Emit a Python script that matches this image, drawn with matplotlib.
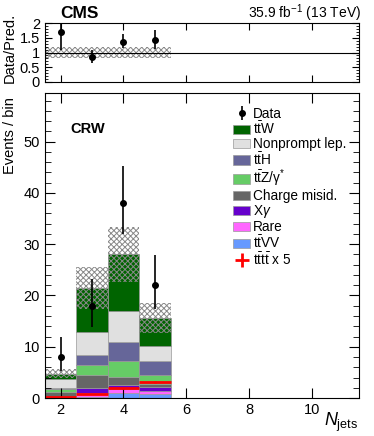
import numpy as np
import matplotlib
matplotlib.use("Agg")
import matplotlib.pyplot as plt
from matplotlib.ticker import MultipleLocator

plt.rcParams['font.family'] = ['Liberation Sans', 'DejaVu Sans']
plt.rcParams['mathtext.fontset'] = 'custom'
plt.rcParams['mathtext.rm'] = 'Liberation Sans'
plt.rcParams['mathtext.it'] = 'Liberation Sans:italic'
plt.rcParams['mathtext.bf'] = 'Liberation Sans:bold'
plt.rcParams['hatch.linewidth'] = 0.7

# bins (N_jets) and stacked backgrounds, bottom to top
njets = [2, 3, 4, 5]
ttvv = [0.05, 0.3, 0.9, 0.7]
rare = [0.1, 0.6, 0.8, 0.7]
xgamma = [0.1, 1.0, 0.8, 0.8]
chargemisid = [0.9, 2.5, 1.7, 0.6]
ttz = [0.6, 2.0, 3.1, 1.6]
tth = [0.3, 2.0, 3.7, 2.8]
nonprompt = [1.6, 4.4, 5.9, 2.9]
ttw = [1.1, 8.6, 11.1, 5.5]
tttt_x5 = [0.2, 0.8, 1.9, 3.1]
rel_unc = [0.19, 0.19, 0.19, 0.19]

data = [8, 18, 38, 22]
data_lo = [2.8, 4.2, 6.1, 4.7]
data_hi = [3.9, 5.3, 7.2, 5.8]

stack = [
    (ttvv, '#6699ff', r'$\mathrm{t\bar{t}VV}$'),
    (rare, '#ff66ff', 'Rare'),
    (xgamma, '#6600cc', r'X$\gamma$'),
    (chargemisid, '#666666', 'Charge misid.'),
    (ttz, '#66cc66', r'$\mathrm{t\bar{t}Z/\gamma^{*}}$'),
    (tth, '#666699', r'$\mathrm{t\bar{t}H}$'),
    (nonprompt, '#e0e0e0', 'Nonprompt lep.'),
    (ttw, '#006400', r'$\mathrm{t\bar{t}W}$'),
]

x = np.array(njets)
fig = plt.figure(figsize=(3.74, 4.36), dpi=100)
ax_r = fig.add_axes([0.120, 0.812, 0.840, 0.135])
ax = fig.add_axes([0.120, 0.087, 0.840, 0.700])

bottom = np.zeros(len(x))
handles = {}
for vals, col, lab in stack:
    h = ax.bar(x, vals, width=1.0, bottom=bottom, color=col,
               edgecolor='#999999', linewidth=0.5, label=lab)
    handles[lab] = h
    bottom += np.array(vals)
total = bottom
unc = total * np.array(rel_unc)

ax.bar(x, 2 * unc, width=1.0, bottom=total - unc, fill=False,
       hatch='xxxxxx', edgecolor='#888888', linewidth=0)

h_tttt = ax.errorbar(x, tttt_x5, xerr=0.5, yerr=np.array(tttt_x5) * 0.05,
                     fmt='none', ecolor='red', elinewidth=2, capsize=0)
h_data = ax.errorbar(x, data, yerr=[data_lo, data_hi], fmt='o', color='black',
                     ms=4, elinewidth=1.2, capsize=0)

ax.set_xlim(1.5, 11.5)
ax.set_ylim(0, 59.5)
ax.xaxis.set_major_locator(MultipleLocator(2))
ax.yaxis.set_major_locator(MultipleLocator(10))
ax.yaxis.set_minor_locator(MultipleLocator(2))
ax.tick_params(which='both', direction='in', top=True, right=True, labelsize=10.5)
ax.tick_params(which='major', length=7)
ax.tick_params(which='minor', length=4)
ax.set_ylabel('Events / bin', fontsize=10.5, loc='top')
ax.yaxis.set_label_coords(-0.09, 0.985)
fig.text(0.958, 0.005, r'$N_{\mathrm{jets}}$', fontsize=13, ha='right',
         va='bottom')
ax.text(0.08, 0.87, 'CRW', transform=ax.transAxes, fontsize=10.5,
        fontweight='bold')

order = [r'$\mathrm{t\bar{t}W}$', 'Nonprompt lep.', r'$\mathrm{t\bar{t}H}$',
         r'$\mathrm{t\bar{t}Z/\gamma^{*}}$', 'Charge misid.', r'X$\gamma$',
         'Rare', r'$\mathrm{t\bar{t}VV}$']
leg_h = [h_data] + [handles[k] for k in order] + [h_tttt]
leg_l = ['Data'] + order + [r'$\mathrm{t\bar{t}t\bar{t}}$ x 5']
ax.legend(leg_h, leg_l, loc='upper left', bbox_to_anchor=(0.60, 0.955),
          frameon=False, fontsize=9.8, labelspacing=0.0, handlelength=1.25,
          handleheight=0.7, handletextpad=0.2, borderaxespad=0, borderpad=0)

# ratio panel
ratio = np.array(data) / total
r_lo = np.array(data_lo) / total
r_hi = np.array(data_hi) / total
ax_r.bar(x, 2 * np.array(rel_unc), width=1.0, bottom=1 - np.array(rel_unc),
         fill=False, hatch='xxxxxx', edgecolor='#888888', linewidth=0)
ax_r.axhline(1, color='black', lw=0.8)
ax_r.errorbar(x, ratio, yerr=[r_lo, r_hi], fmt='o', color='black', ms=4,
              elinewidth=1.2, capsize=0)
ax_r.set_xlim(1.5, 11.5)
ax_r.set_ylim(0, 2)
ax_r.xaxis.set_major_locator(MultipleLocator(2))
ax_r.yaxis.set_minor_locator(MultipleLocator(0.1))
ax_r.set_yticks([0, 0.5, 1, 1.5, 2], ['0', '0.5', '1', '1.5', '2'])
ax_r.tick_params(which='both', direction='in', top=True, right=True,
                 labelsize=10.5, labelbottom=False)
ax_r.tick_params(which='major', length=5)
ax_r.tick_params(which='minor', length=2.5)
ax_r.set_ylabel('Data/Pred.', fontsize=10.5, loc='bottom')
ax_r.yaxis.set_label_coords(-0.09, -0.02)

fig.text(0.16, 0.958, 'CMS', fontsize=12.5, fontweight='bold')
fig.text(0.965, 0.958, r'35.9 fb$^{-1}$ (13 TeV)', fontsize=10, ha='right')

fig.savefig('out.png', dpi=100)
